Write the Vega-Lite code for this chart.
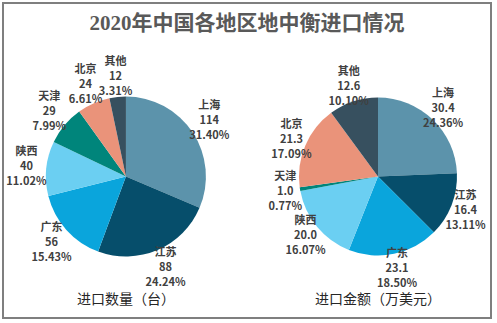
{
  "$schema": "https://vega.github.io/schema/vega-lite/v6.json",
  "autosize": {"type": "fit", "contains": "padding"},
  "width": 497,
  "height": 323,
  "padding": {"left": 3, "top": 3, "right": 6, "bottom": 5},
  "background": "white",
  "config": {
    "view": {"stroke": "#7f7f7f", "strokeWidth": 2},
    "font": "Noto Sans CJK SC"
  },
  "title": {
    "text": "2020年中国各地区地中衡进口情况",
    "font": "Liberation Serif, Noto Sans CJK SC",
    "fontSize": 21,
    "fontWeight": "bold",
    "color": "#595959",
    "anchor": "middle",
    "orient": "top",
    "offset": -31
  },
  "datasets": {
    "slices": [
      {"chart": "数量", "region": "上海", "value": 114, "rank": 1, "label": "上海\n114\n31.40%"},
      {"chart": "数量", "region": "江苏", "value": 88, "rank": 2, "label": "江苏\n88\n24.24%"},
      {"chart": "数量", "region": "广东", "value": 56, "rank": 3, "label": "广东\n56\n15.43%"},
      {"chart": "数量", "region": "陕西", "value": 40, "rank": 4, "label": "陕西\n40\n11.02%"},
      {"chart": "数量", "region": "天津", "value": 29, "rank": 5, "label": "天津\n29\n7.99%"},
      {"chart": "数量", "region": "北京", "value": 24, "rank": 6, "label": "北京\n24\n6.61%"},
      {"chart": "数量", "region": "其他", "value": 12, "rank": 7, "label": "其他\n12\n3.31%"},
      {"chart": "金额", "region": "上海", "value": 30.4, "rank": 1, "label": "上海\n30.4\n24.36%"},
      {"chart": "金额", "region": "江苏", "value": 16.4, "rank": 2, "label": "江苏\n16.4\n13.11%"},
      {"chart": "金额", "region": "广东", "value": 23.1, "rank": 3, "label": "广东\n23.1\n18.50%"},
      {"chart": "金额", "region": "陕西", "value": 20.0, "rank": 4, "label": "陕西\n20.0\n16.07%"},
      {"chart": "金额", "region": "天津", "value": 1.0, "rank": 5, "label": "天津\n1.0\n0.77%"},
      {"chart": "金额", "region": "北京", "value": 21.3, "rank": 6, "label": "北京\n21.3\n17.09%"},
      {"chart": "金额", "region": "其他", "value": 12.6, "rank": 7, "label": "其他\n12.6\n10.10%"}
    ],
    "captions": [
      {"chart": "数量", "caption": "进口数量（台）"},
      {"chart": "金额", "caption": "进口金额（万美元）"}
    ]
  },
  "layer": [
    {
      "data": {"name": "slices"},
      "transform": [{"filter": "datum.chart === '数量'"}],
      "encoding": {
        "x": {"field": "chart", "type": "nominal", "scale": {"type": "point", "domain": ["数量", "金额"], "padding": 0.468, "align": 0.521}, "axis": null},
        "y": {"datum": "pie", "type": "nominal", "scale": {"type": "point", "domain": ["pie", "caption"], "padding": 0.775, "align": 0.906}, "axis": null},
        "theta": {"field": "value", "type": "quantitative", "stack": true},
        "order": {"field": "rank", "type": "quantitative"}
      },
      "layer": [
        {
          "mark": {"type": "arc", "outerRadius": 80, "stroke": null},
          "encoding": {
            "color": {"field": "region", "type": "nominal", "legend": null,
              "scale": {"domain": ["上海", "江苏", "广东", "陕西", "天津", "北京", "其他"],
                        "range": ["#5c93ab", "#064e6b", "#0aa5dc", "#6bcff2", "#00857b", "#ea937a", "#37505f"]}}
          }
        },
        {
          "mark": {"type": "text", "radius": 100, "dy": -15, "lineBreak": "\n", "lineHeight": 15, "fontSize": 11, "fontWeight": "bold", "color": "#404040", "align": "center", "baseline": "middle"},
          "encoding": {"text": {"field": "label", "type": "nominal"}}
        }
      ]
    },
    {
      "data": {"name": "slices"},
      "transform": [{"filter": "datum.chart === '金额'"}],
      "encoding": {
        "x": {"field": "chart", "type": "nominal", "axis": null},
        "y": {"datum": "pie", "type": "nominal", "axis": null},
        "theta": {"field": "value", "type": "quantitative", "stack": true},
        "order": {"field": "rank", "type": "quantitative"}
      },
      "layer": [
        {
          "mark": {"type": "arc", "outerRadius": 79, "stroke": null},
          "encoding": {
            "color": {"field": "region", "type": "nominal", "legend": null}
          }
        },
        {
          "mark": {"type": "text", "radius": 94, "dy": -15, "lineBreak": "\n", "lineHeight": 15, "fontSize": 11, "fontWeight": "bold", "color": "#404040", "align": "center", "baseline": "middle"},
          "encoding": {"text": {"field": "label", "type": "nominal"}}
        }
      ]
    },
    {
      "data": {"name": "captions"},
      "mark": {"type": "text", "fontSize": 14, "color": "#262626", "align": "center", "baseline": "middle"},
      "encoding": {
        "x": {"field": "chart", "type": "nominal", "axis": null},
        "y": {"datum": "caption", "type": "nominal", "axis": null},
        "text": {"field": "caption", "type": "nominal"}
      }
    }
  ],
  "resolve": {"scale": {"theta": "independent"}}
}
